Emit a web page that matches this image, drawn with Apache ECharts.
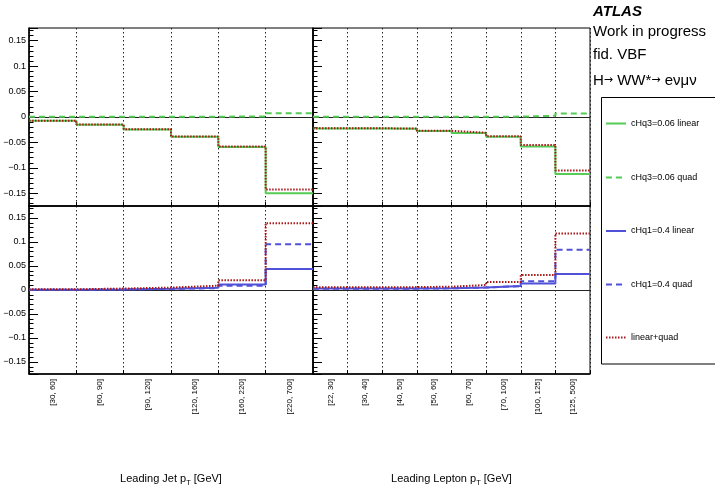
<!DOCTYPE html>
<html><head><meta charset="utf-8">
<script src="https://cdn.jsdelivr.net/npm/echarts@6/dist/echarts.min.js"></script>
<style>html,body{margin:0;padding:0;background:#fff}#c{width:715px;height:488px}</style>
</head><body><div id="c"></div>
<script>
// ---- data ----
const jetBins = ["[30, 60]", "[60, 90]", "[90, 120]", "[120, 160]", "[160, 220]", "[220, 700]"];
const lepBins = ["[22, 30]", "[30, 40]", "[40, 50]", "[50, 60]", "[60, 70]", "[70, 100]", "[100, 125]", "[125, 500]"];

const jetHq3Lin  = [-0.0075, -0.0150, -0.0245, -0.0390, -0.0590, -0.1500];
const jetHq3Quad = [0.0003, 0.0004, 0.0005, 0.0006, 0.0010, 0.0075];
const jetHq3Sum  = [-0.0072, -0.0146, -0.0240, -0.0384, -0.0580, -0.1425];

const lepHq3Lin  = [-0.0225, -0.0225, -0.0230, -0.0275, -0.0315, -0.0386, -0.0578, -0.1120];
const lepHq3Quad = [0.0003, 0.0003, 0.0003, 0.0004, 0.0005, 0.0008, 0.0025, 0.0068];
const lepHq3Sum  = [-0.0222, -0.0222, -0.0227, -0.0271, -0.0310, -0.0378, -0.0553, -0.1050];

const jetHq1Lin  = [0.0007, 0.0013, 0.0025, 0.0045, 0.0115, 0.0436];
const jetHq1Quad = [0.0006, 0.0012, 0.0022, 0.0040, 0.0090, 0.0954];
const jetHq1Sum  = [0.0015, 0.0030, 0.0050, 0.0090, 0.0205, 0.1390];

const lepHq1Lin  = [0.0030, 0.0030, 0.0030, 0.0035, 0.0050, 0.0083, 0.0133, 0.0332];
const lepHq1Quad = [0.0025, 0.0027, 0.0028, 0.0035, 0.0052, 0.0080, 0.0180, 0.0838];
const lepHq1Sum  = [0.0055, 0.0058, 0.0060, 0.0070, 0.0104, 0.0166, 0.0310, 0.1176];

const legendLabels = ["cHq3=0.06 linear", "cHq3=0.06 quad", "cHq1=0.4 linear", "cHq1=0.4 quad", "linear+quad"];
const xTitles = ["Leading Jet p", "Leading Lepton p"];

// ---- styling ----
const FONT = "'Liberation Sans', Arial, Helvetica, sans-serif";
const GREEN = '#55cc55', BLUE = '#5050d8', RED = '#a81818';
const DASH = [6, 4], DOT = [1.5, 1.5];

function hist(vals) {
  const d = vals.map((v, i) => [i, v]);
  d.push([vals.length, vals[vals.length - 1]]);
  return d;
}
function fmt(v) {
  if (Math.abs(v) > 0.16) return '';
  if (Math.abs(v) < 1e-9) return '0';
  const s = String(parseFloat(Math.abs(v).toFixed(3)));
  return (v < 0 ? '\u2212' : '') + s;
}

const grids = [
  { left: 29, top: 28, width: 284, height: 178 },   // TL
  { left: 29, top: 206, width: 284, height: 168 },  // BL
  { left: 313, top: 28, width: 277, height: 178 },  // TR
  { left: 313, top: 206, width: 277, height: 168 }  // BR
].map(g => Object.assign({ show: true, borderColor: '#000', borderWidth: 1, backgroundColor: 'transparent',
  containLabel: false, outerBoundsMode: 'none' }, g));

const nBins = [jetBins.length, jetBins.length, lepBins.length, lepBins.length];

const xAxes = nBins.map((n, gi) => ({
  type: 'value', gridIndex: gi, min: 0, max: n, interval: 1, position: 'bottom',
  axisLine: { show: true, onZero: false, lineStyle: { color: '#000', width: 1.5 } },
  axisTick: { show: true, inside: true, length: 4, lineStyle: { color: '#000', width: 1 } },
  axisLabel: { show: false },
  splitLine: { show: true, lineStyle: { color: '#222', width: 1, type: [1.5, 2.5] } }
}));
[[1, jetBins], [3, lepBins]].forEach(([gi, cats]) => {
  xAxes.push({
    type: 'category', gridIndex: gi, data: cats, boundaryGap: true, position: 'bottom',
    axisLine: { show: false, onZero: false }, axisTick: { show: false }, splitLine: { show: false },
    axisLabel: { show: true, rotate: 90, fontSize: 8, fontFamily: FONT, color: '#000', margin: 5, interval: 0 }
  });
});

const yAxes = [0, 1, 2, 3].map(gi => ({
  type: 'value', gridIndex: gi, min: -0.175, max: 0.175, splitNumber: 7,
  minInterval: 0.05, maxInterval: 0.05,
  axisLine: { show: true, onZero: false, lineStyle: { color: '#000', width: 1.5 } },
  axisTick: { show: true, inside: true, length: 9, lineStyle: { color: '#000', width: 1 } },
  minorTick: { show: true, splitNumber: 5, length: 4.5, lineStyle: { color: '#000', width: 1 } },
  axisLabel: { show: gi < 2, formatter: fmt, fontSize: 9, fontFamily: FONT, color: '#000', margin: 3 },
  splitLine: { show: false }
}));

function ser(name, vals, gi, color, type, withZero) {
  const s = {
    name: name, type: 'line', xAxisIndex: gi, yAxisIndex: gi, step: 'end',
    data: hist(vals), symbol: 'none', silent: true, animation: false,
    lineStyle: { color: color, width: 2, type: type }, z: 3
  };
  if (withZero) {
    s.markLine = {
      silent: true, symbol: 'none', z: 1, animation: false,
      label: { show: false },
      lineStyle: { color: '#222', width: 1.2, type: 'solid' },
      data: [{ yAxis: 0 }]
    };
  }
  return s;
}

const series = [
  ser(legendLabels[0], jetHq3Lin, 0, GREEN, 'solid', true),
  ser(legendLabels[1], jetHq3Quad, 0, GREEN, DASH),
  ser(legendLabels[4], jetHq3Sum, 0, RED, DOT),
  ser(legendLabels[2], jetHq1Lin, 1, BLUE, 'solid', true),
  ser(legendLabels[3], jetHq1Quad, 1, BLUE, DASH),
  ser(legendLabels[4], jetHq1Sum, 1, RED, DOT),
  ser(legendLabels[0], lepHq3Lin, 2, GREEN, 'solid', true),
  ser(legendLabels[1], lepHq3Quad, 2, GREEN, DASH),
  ser(legendLabels[4], lepHq3Sum, 2, RED, DOT),
  ser(legendLabels[2], lepHq1Lin, 3, BLUE, 'solid', true),
  ser(legendLabels[3], lepHq1Quad, 3, BLUE, DASH),
  ser(legendLabels[4], lepHq1Sum, 3, RED, DOT)
];

// legend, titles & labels drawn as graphics
const legColors = [GREEN, GREEN, BLUE, BLUE, RED];
const legTypes = [null, DASH, null, DASH, DOT];
const legY = [123.5, 177.5, 231, 284.5, 337.5];
const richTitle = {
  a: { fontSize: 11, fontFamily: FONT, fill: '#000', lineHeight: 16 },
  s: { fontSize: 7.5, fontFamily: FONT, fill: '#000', lineHeight: 16, verticalAlign: 'bottom' }
};
const graphic = [
  { type: 'text', style: { x: 593, y: 12, text: 'ATLAS', font: 'italic bold 15px ' + FONT, fill: '#000', verticalAlign: 'middle' } },
  { type: 'text', style: { x: 593, y: 32, text: 'Work in progress', font: '15px ' + FONT, fill: '#000', verticalAlign: 'middle' } },
  { type: 'text', style: { x: 593, y: 55, text: 'fid. VBF', font: '15px ' + FONT, fill: '#000', verticalAlign: 'middle' } },
  { type: 'text', style: { x: 593, y: 80.5, text: '{a|H}{r|\u2192}{a| WW*}{r|\u2192}{a| e\u03bd\u03bc\u03bd}',
      verticalAlign: 'middle', rich: {
        a: { fontSize: 15, fontFamily: FONT, fill: '#000', lineHeight: 18 },
        r: { fontSize: 11, fontFamily: "'DejaVu Sans', sans-serif", fill: '#000', lineHeight: 18, verticalAlign: 'middle' }
      } } },
  { type: 'rect', shape: { x: 601.5, y: 97.5, width: 130, height: 266.5 }, style: { fill: '#fff', stroke: '#000', lineWidth: 1 } },
  { type: 'text', style: { x: 171, y: 479, text: '{a|' + xTitles[0] + '}{s|T}{a| [GeV]}', align: 'center', verticalAlign: 'middle', rich: richTitle } },
  { type: 'text', style: { x: 451.5, y: 479, text: '{a|' + xTitles[1] + '}{s|T}{a| [GeV]}', align: 'center', verticalAlign: 'middle', rich: richTitle } }
];
legendLabels.forEach((t, i) => {
  graphic.push({ type: 'line', shape: { x1: 606, y1: legY[i], x2: 626, y2: legY[i] },
    style: { stroke: legColors[i], lineWidth: 2, lineDash: legTypes[i] } });
  graphic.push({ type: 'text', style: { x: 631, y: legY[i], text: t, font: '9px ' + FONT, fill: '#000', verticalAlign: 'middle' } });
});

const chart = echarts.init(document.getElementById('c'), null, { renderer: 'canvas' });
chart.setOption({
  animation: false,
  backgroundColor: '#fff',
  grid: grids, xAxis: xAxes, yAxis: yAxes, series: series, graphic: graphic
});
</script></body></html>
